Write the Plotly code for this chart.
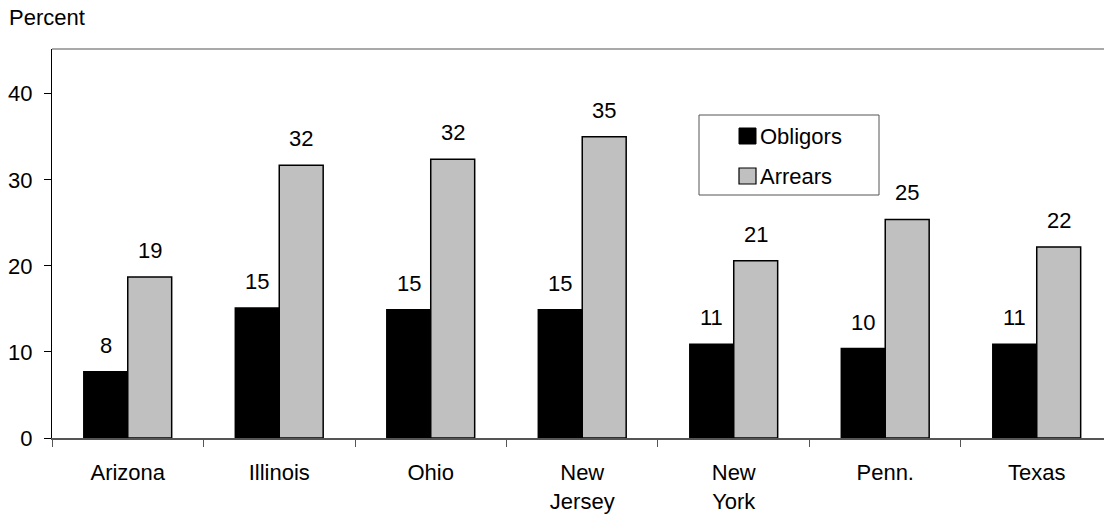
import plotly.graph_objects as go

# Share of obligors and of arrears, by state (percent)
states = ["Arizona", "Illinois", "Ohio", "New<br>Jersey", "New<br>York", "Penn.", "Texas"]
obligors = [7.7, 15.1, 14.9, 14.9, 10.9, 10.4, 10.9]
arrears = [18.7, 31.7, 32.4, 35.0, 20.6, 25.4, 22.2]
y_ticks = [0, 10, 20, 30, 40]

FONT = "Arial, Liberation Sans, sans-serif"
FS = 22
BLACK = "#000000"
GREY = "#c0c0c0"

W, H = 1104, 516
ML, MR, MT, MB = 52, 0, 49, 78
PW, PH = W - ML - MR, H - MT - MB


def px(x):
    """Horizontal pixel -> paper coordinate."""
    return (x - ML) / PW


def py(y):
    """Vertical pixel -> paper coordinate."""
    return (MT + PH - y) / PH


fig = go.Figure()
fig.add_trace(go.Bar(name="Obligors", x=states, y=obligors,
                     marker=dict(color=BLACK, line=dict(color=BLACK, width=1.5))))
fig.add_trace(go.Bar(name="Arrears", x=states, y=arrears,
                     marker=dict(color=GREY, line=dict(color=BLACK, width=1.5))))

annotations = []
# value labels above each bar
for series, shift in ((obligors, -22), (arrears, 22)):
    for s, v in zip(states, series):
        annotations.append(dict(x=s, y=v, xref="x", yref="y", text=f"{v:.0f}",
                                showarrow=False, xshift=shift, yshift=12,
                                yanchor="bottom", font=dict(family=FONT, size=FS, color=BLACK)))

# axis title in the top-left corner
annotations.append(dict(x=px(7), y=py(17), xref="paper", yref="paper", text="Percent",
                        showarrow=False, xanchor="left", yanchor="middle",
                        font=dict(family=FONT, size=FS, color=BLACK)))

# legend entries
for label, color, yc in (("Obligors", BLACK, 136), ("Arrears", GREY, 176)):
    annotations.append(dict(x=px(758), y=py(yc), xref="paper", yref="paper", text=label,
                            showarrow=False, xanchor="left", yanchor="middle",
                            font=dict(family=FONT, size=FS, color=BLACK)))

shapes = [
    # top frame line
    dict(type="line", xref="paper", yref="paper", x0=0, x1=1, y0=1, y1=1,
         line=dict(color="#8c8c8c", width=1.5)),
    # legend box
    dict(type="rect", xref="paper", yref="paper", x0=px(699), x1=px(879), y0=py(195), y1=py(115),
         line=dict(color="#555555", width=1), fillcolor="white", layer="above"),
    dict(type="rect", xref="paper", yref="paper", x0=px(739), x1=px(756), y0=py(144), y1=py(128),
         line=dict(color=BLACK, width=1), fillcolor=BLACK, layer="above"),
    dict(type="rect", xref="paper", yref="paper", x0=px(739), x1=px(756), y0=py(184), y1=py(168),
         line=dict(color=BLACK, width=1.2), fillcolor=GREY, layer="above"),
]

fig.update_layout(
    width=W, height=H,
    margin=dict(l=ML, r=MR, t=MT, b=MB),
    paper_bgcolor="white", plot_bgcolor="white",
    barmode="group", bargap=0.42, bargroupgap=0,
    showlegend=False,
    font=dict(family=FONT, size=FS, color=BLACK),
    annotations=annotations,
    shapes=shapes,
)
fig.update_xaxes(type="category", range=[-0.5, 6.444], showgrid=False,
                 showline=True, linecolor="#555555", linewidth=1.5,
                 ticks="outside", tickson="boundaries", ticklen=7, tickcolor="#555555",
                 tickwidth=1.2, ticklabelstandoff=14,
                 tickfont=dict(family=FONT, size=FS, color=BLACK))
fig.update_yaxes(range=[0, 45.2], tickvals=y_ticks, showgrid=False, zeroline=False,
                 showline=True, linecolor=BLACK, linewidth=1,
                 ticks="outside", ticklen=7, tickcolor=BLACK, ticklabelstandoff=7,
                 tickfont=dict(family=FONT, size=FS, color=BLACK))

fig.write_html("out.html")
